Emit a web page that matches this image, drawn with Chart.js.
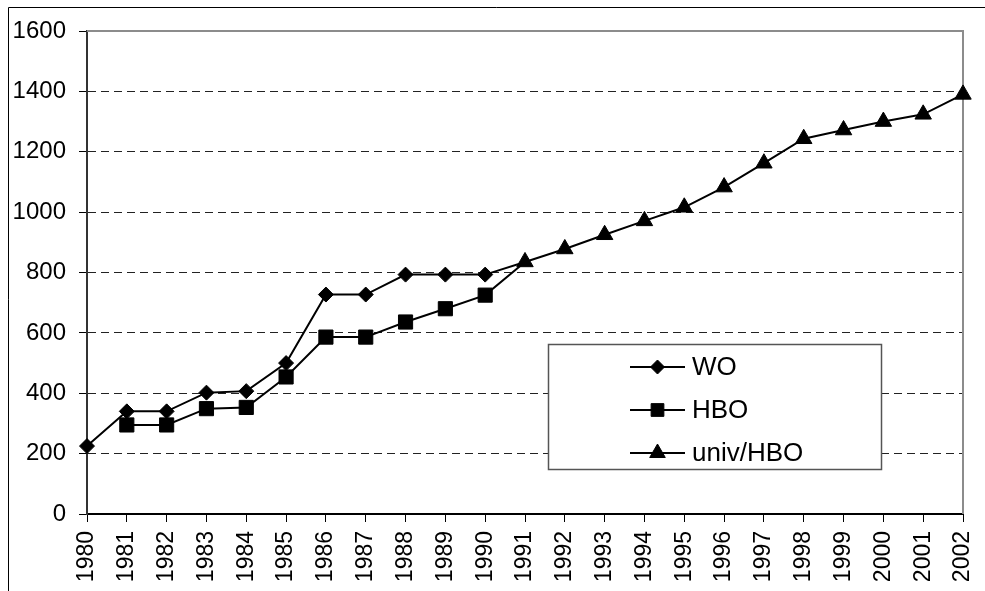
<!DOCTYPE html>
<html>
<head>
<meta charset="utf-8">
<script src="https://cdn.jsdelivr.net/npm/chart.js@4/dist/chart.umd.min.js"></script>
<style>
  html, body { margin: 0; padding: 0; background: #fff; }
  #wrap { position: relative; width: 985px; height: 591px; }
</style>
</head>
<body>
<div id="wrap"><canvas id="c" width="985" height="591"></canvas></div>
<script>
const years = ['1980','1981','1982','1983','1984','1985','1986','1987','1988','1989','1990','1991',
  '1992','1993','1994','1995','1996','1997','1998','1999','2000','2001','2002'];
const woValues  = [225, 340, 340, 402, 407, 500, 727, 727, 793, 793, 793, 835,
  null, null, null, null, null, null, null, null, null, null, null];
const hboValues = [null, 295, 295, 349, 353, 454, 586, 586, 636, 680, 725, 835,
  null, null, null, null, null, null, null, null, null, null, null];
const univValues = [null, null, null, null, null, null, null, null, null, null, null, 835,
  878, 925, 971, 1016, 1083, 1162, 1243, 1272, 1300, 1324, 1390];
const seriesNames = ['WO', 'HBO', 'univ/HBO'];
const yTicks = [0, 200, 400, 600, 800, 1000, 1200, 1400, 1600];

const FONT = 'Liberation Sans, Arial, sans-serif';
const joinIdx = years.indexOf('1991');

const framePlugin = {
  id: 'frame',
  beforeDraw(chart) {
    const ctx = chart.ctx;
    ctx.save();
    ctx.strokeStyle = '#000';
    ctx.lineWidth = 1;
    ctx.beginPath();
    ctx.moveTo(8.5, chart.height);
    ctx.lineTo(8.5, 7.5);
    ctx.lineTo(chart.width, 7.5);
    ctx.stroke();
    ctx.restore();
  },
  beforeDatasetsDraw(chart) {
    const a = chart.chartArea, ctx = chart.ctx;
    ctx.save();
    ctx.strokeStyle = '#8c8c8c';
    ctx.lineWidth = 2;
    ctx.beginPath();
    ctx.moveTo(a.left, a.top);
    ctx.lineTo(a.right, a.top);
    ctx.lineTo(a.right, a.bottom);
    ctx.stroke();
    ctx.restore();
  }
};

const boxLegend = {
  id: 'boxLegend',
  afterDraw(chart) {
    const ctx = chart.ctx;
    const bx = 548.5, by = 344.5, bw = 333, bh = 125;
    ctx.save();
    ctx.fillStyle = '#fff';
    ctx.fillRect(bx, by, bw, bh);
    ctx.strokeStyle = '#555';
    ctx.lineWidth = 1.5;
    ctx.strokeRect(bx, by, bw, bh);
    const rows = [367, 410, 453];
    chart.data.datasets.forEach((ds, i) => {
      const y = rows[i];
      ctx.strokeStyle = '#000';
      ctx.fillStyle = '#000';
      ctx.lineWidth = 2;
      ctx.beginPath();
      ctx.moveTo(630, y);
      ctx.lineTo(685, y);
      ctx.stroke();
      ctx.lineWidth = 1;
      Chart.helpers.drawPoint(ctx, {
        pointStyle: ds.pointStyle,
        radius: ds.legendRadius,
        borderWidth: 1
      }, 657.5, y);
      ctx.fillStyle = '#000';
      ctx.font = '26px ' + FONT;
      ctx.textAlign = 'left';
      ctx.textBaseline = 'middle';
      ctx.fillText(ds.label, 692, y + 1);
    });
    ctx.restore();
  }
};

function hideAtJoin(r) {
  return c => (c.dataIndex === joinIdx ? 0 : r);
}

new Chart(document.getElementById('c'), {
  type: 'line',
  data: {
    labels: years,
    datasets: [
      { label: seriesNames[0], data: woValues, pointStyle: 'rectRot', legendRadius: 7,
        pointRadius: hideAtJoin(7.5), borderColor: '#000', backgroundColor: '#000',
        pointBackgroundColor: '#000', pointBorderColor: '#000', borderWidth: 2, pointBorderWidth: 1,
        tension: 0, spanGaps: false, order: 2 },
      { label: seriesNames[1], data: hboValues, pointStyle: 'rect', legendRadius: 9,
        pointRadius: hideAtJoin(10), borderColor: '#000', backgroundColor: '#000',
        pointBackgroundColor: '#000', pointBorderColor: '#000', borderWidth: 2, pointBorderWidth: 1,
        tension: 0, spanGaps: false, order: 3 },
      { label: seriesNames[2], data: univValues, pointStyle: 'triangle', legendRadius: 9,
        pointRadius: 9.5, borderColor: '#000', backgroundColor: '#000',
        pointBackgroundColor: '#000', pointBorderColor: '#000', borderWidth: 2, pointBorderWidth: 1,
        tension: 0, spanGaps: false, order: 1 }
    ]
  },
  options: {
    responsive: false,
    animation: false,
    events: [],
    layout: { padding: { left: 0, right: 22, top: 31, bottom: 0 } },
    plugins: { legend: { display: false }, tooltip: { enabled: false } },
    scales: {
      x: {
        offset: false,
        afterFit: s => { s.height = 77; s.paddingLeft = 0; s.paddingRight = 0; },
        grid: { drawOnChartArea: false, drawTicks: true, tickLength: 8, color: '#000', lineWidth: 1 },
        border: { display: true, color: '#000', width: 2 },
        ticks: { autoSkip: false, minRotation: 90, maxRotation: 90, padding: 9,
          color: '#000', font: { family: FONT, size: 23 } }
      },
      y: {
        min: 0, max: 1600,
        afterFit: s => { s.width = 87; s.paddingTop = 0; s.paddingBottom = 0; },
        afterBuildTicks: s => { s.ticks = yTicks.map(v => ({ value: v })); },
        grid: { color: '#222', lineWidth: 1, drawTicks: true, tickLength: 8, tickBorderDash: [],
          tickColor: '#000' },
        border: { display: true, color: '#333', width: 2, dash: [8, 5] },
        ticks: { padding: 13, color: '#000', font: { family: FONT, size: 24 },
          callback: v => String(v) }
      }
    }
  },
  plugins: [framePlugin, boxLegend]
});
</script>
</body>
</html>
